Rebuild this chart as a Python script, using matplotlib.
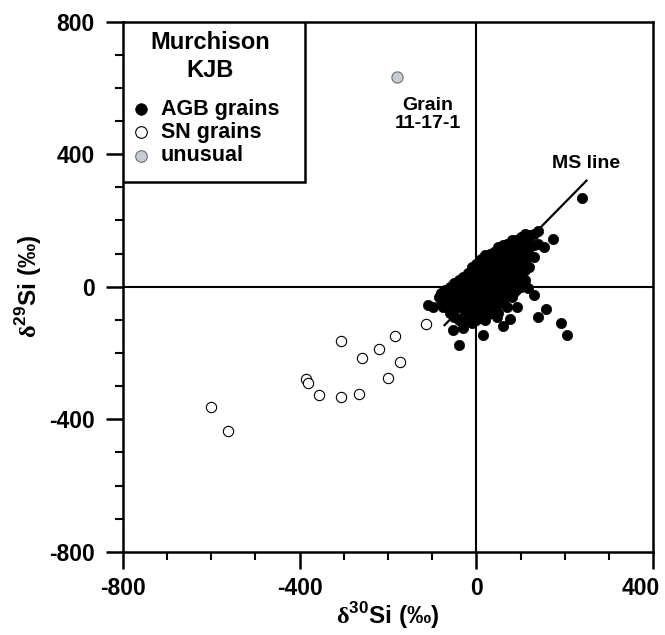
import numpy as np
import matplotlib.pyplot as plt
from matplotlib.patches import Rectangle
from matplotlib.ticker import MultipleLocator
from matplotlib.transforms import ScaledTranslation

plt.rcParams['font.family'] = ['Liberation Sans', 'DejaVu Sans']
plt.rcParams['font.weight'] = 'bold'
plt.rcParams['axes.unicode_minus'] = False
plt.rcParams['mathtext.fontset'] = 'custom'
plt.rcParams['mathtext.rm'] = 'Liberation Serif'
plt.rcParams['mathtext.bf'] = 'Liberation Sans:bold'

# mainstream (AGB) grains, d30Si / d29Si in permil
agb_grains = [
    # dense core, along the MS line
    (-80, -40), (-80, -20), (-70, -50), (-70, -10), (-70, -35),
    (-60, -60), (-60, -30), (-60, 0), (-60, -80),
    (-50, -70), (-50, -40), (-50, -10), (-50, 10), (-50, -90),
    (-40, -100), (-40, -60), (-40, -30), (-40, 0), (-40, 20),
    (-30, -90), (-30, -60), (-30, -30), (-30, 0), (-30, 30), (-30, -110),
    (-20, -100), (-20, -70), (-20, -40), (-20, -10), (-20, 20), (-20, 40),
    (-10, -110), (-10, -80), (-10, -50), (-10, -20), (-10, 10), (-10, 40), (-10, 60),
    (0, -100), (0, -70), (0, -40), (0, -10), (0, 20), (0, 50), (0, 70),
    (10, -90), (10, -60), (10, -30), (10, 0), (10, 30), (10, 60), (10, 85),
    (20, -100), (20, -70), (20, -40), (20, -10), (20, 20), (20, 50), (20, 80), (20, 95),
    (30, -80), (30, -50), (30, -20), (30, 10), (30, 40), (30, 70), (30, 100),
    (40, -70), (40, -40), (40, -10), (40, 20), (40, 50), (40, 80), (40, 105),
    (50, -80), (50, -50), (50, -20), (50, 10), (50, 40), (50, 70), (50, 100), (50, 120),
    (60, -40), (60, -10), (60, 20), (60, 50), (60, 80), (60, 110), (60, 125),
    (70, -60), (70, -20), (70, 10), (70, 40), (70, 70), (70, 100), (70, 130),
    (80, -30), (80, 0), (80, 30), (80, 60), (80, 90), (80, 120), (80, 140),
    (90, -10), (90, 20), (90, 50), (90, 80), (90, 110), (90, 140),
    (100, 0), (100, 30), (100, 60), (100, 90), (100, 120), (100, 150),
    (110, 20), (110, 50), (110, 80), (110, 110), (110, 140), (110, 160),
    (120, 60), (120, 100), (120, 130), (120, 155),
    (130, 90), (130, 125), (130, 160), (140, 130), (140, 168),
    (-65, -20), (-45, -55), (-25, 15), (-5, 30), (15, 45), (35, 85),
    (55, 85), (75, 115), (95, 130), (115, 145), (-15, -90), (5, -85),
    (25, -85), (45, -60), (65, -30), (85, -15), (-75, -60), (-85, -30),
    # scattered grains around the core
    (239, 269), (173, 143), (153, 121), (117, -5), (130, -25),
    (158, -66), (139, -91), (192, -110), (206, -147), (91, -62),
    (60, -118), (75, -98), (47, -92), (15, -147), (-39, -175),
    (-30, -124), (-53, -132), (-110, -55), (-98, -60), (-82, -30),
]

# supernova grains
sn_grains = [
    (-600, -362), (-562, -435), (-386, -279), (-380, -291), (-356, -328),
    (-307, -332), (-307, -163), (-265, -324), (-258, -214), (-221, -189),
    (-183, -148), (-201, -275), (-172, -227), (-115, -113),
]

# grain 11-17-1
unusual_grain = [(-180, 632)]

# mainstream correlation line end points
ms_x = [-72, 249]
ms_y = [-116, 320]

x_ticks = [-800, -400, 0, 400]
y_ticks = [-800, -400, 0, 400, 800]
legend_labels = ['AGB grains', 'SN grains', 'unusual']

agb_x, agb_y = zip(*agb_grains)
sn_x, sn_y = zip(*sn_grains)
un_x, un_y = zip(*unusual_grain)

agb_style = dict(c='black', edgecolors='black', lw=0.5)
sn_style = dict(c='white', edgecolors='black', lw=0.8)
un_style = dict(c='#c9cbd3', edgecolors='#6e6e6e', lw=0.8)

fig = plt.figure(figsize=(6.65, 6.35), dpi=100)
ax = fig.add_axes([0.1845, 0.131, 0.7978, 0.835])

ax.axhline(0, color='black', lw=1.5, zorder=1)
ax.axvline(0, color='black', lw=1.5, zorder=1)
ax.plot(ms_x, ms_y, color='black', lw=1.6, zorder=2)

ax.scatter(agb_x, agb_y, s=55, zorder=3, **agb_style)
ax.scatter(sn_x, sn_y, s=55, zorder=3, **sn_style)
ax.scatter(un_x, un_y, s=65, zorder=3, **un_style)

ax.text(-110, 520, 'Grain\n11-17-1', ha='center', va='center', fontsize=14,
        fontweight='bold', linespacing=1.1)
ax.text(248, 373, 'MS line', ha='center', va='center', fontsize=14, fontweight='bold')

ax.set_xlim(-800, 400)
ax.set_ylim(-800, 800)
ax.set_xticks(x_ticks)
ax.set_yticks(y_ticks)
ax.xaxis.set_minor_locator(MultipleLocator(100))
ax.yaxis.set_minor_locator(MultipleLocator(100))
ax.tick_params(which='major', direction='out', length=12, width=1.8, labelsize=16.5)
ax.tick_params(axis='x', which='major', pad=6)
ax.tick_params(axis='y', which='major', pad=8)
ax.tick_params(which='minor', direction='out', length=6, width=1.5)
for sp in ax.spines.values():
    sp.set_linewidth(1.8)

# keep the last x label inside the figure
last = ax.get_xticklabels()[-1]
last.set_transform(last.get_transform() + ScaledTranslation(-9 / 72, 0, fig.dpi_scale_trans))

ax.set_xlabel(r'$\mathrm{\delta}^{\mathbf{30}}$Si (‰)', fontsize=17.5, fontweight='bold', labelpad=0)
ax.set_ylabel(r'$\mathrm{\delta}^{\mathbf{29}}$Si (‰)', fontsize=17.5, fontweight='bold', labelpad=4)

# legend box, drawn by hand
ax.add_patch(Rectangle((0, 0.698), 0.343, 0.302, transform=ax.transAxes, fill=True,
                       facecolor='white', edgecolor='black', lw=1.8, zorder=5))
ax.text(0.1645, 0.960, 'Murchison', transform=ax.transAxes, ha='center', va='center',
        fontsize=17, fontweight='bold', zorder=6)
ax.text(0.1645, 0.907, 'KJB', transform=ax.transAxes, ha='center', va='center',
        fontsize=17, fontweight='bold', zorder=6)
leg_y = [0.835, 0.791, 0.747]
for yy, lab, st in zip(leg_y, legend_labels, [agb_style, sn_style, un_style]):
    ax.scatter([0.034], [yy], s=70, transform=ax.transAxes, zorder=6, **st)
    ax.text(0.0716, yy, lab, transform=ax.transAxes, ha='left', va='center',
            fontsize=15.5, fontweight='bold', zorder=6)

fig.savefig('out.png', dpi=100)
